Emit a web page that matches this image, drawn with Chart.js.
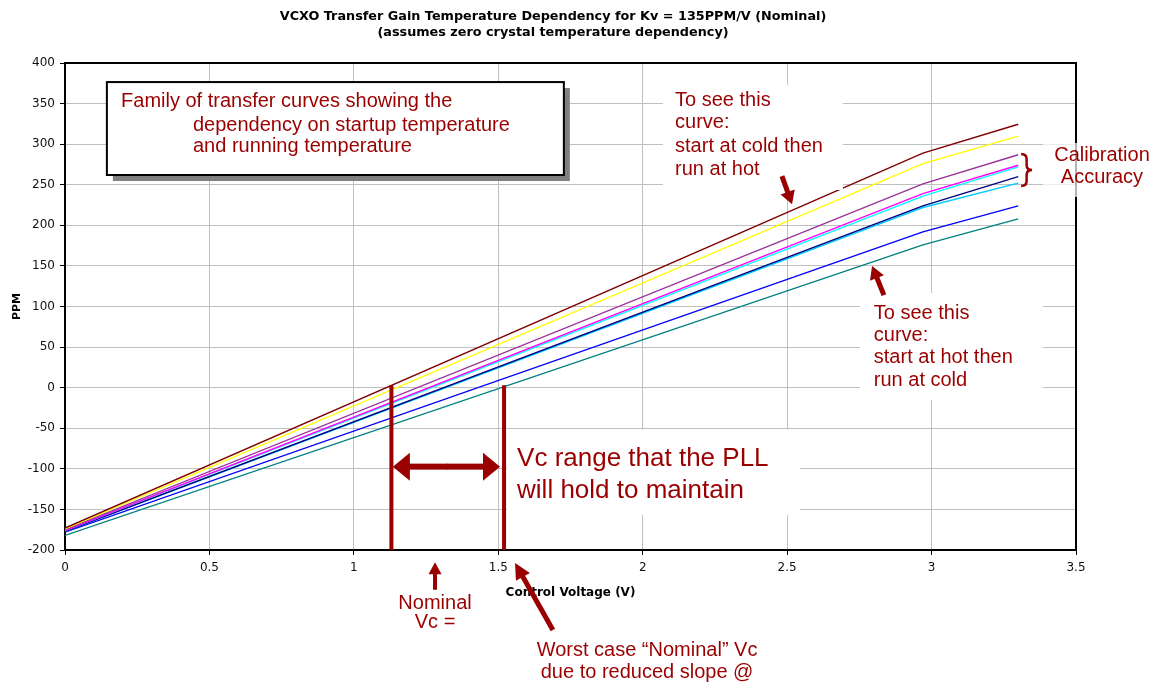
<!DOCTYPE html>
<html>
<head>
<meta charset="utf-8">
<script src="https://cdn.jsdelivr.net/npm/chart.js@4"></script>
<style>
  html, body { margin: 0; padding: 0; background: #fff; }
  #wrap { width: 1158px; height: 683px; }
</style>
</head>
<body>
<div id="wrap"><canvas id="vcxoChart" width="1158" height="683"></canvas></div>
<script>
// control voltage points (V) where the curves were sampled
const voltage = [0, 2.97, 3.3];

// PPM values for each curve
const curveMaroon = [-173, 289, 324.5];
const curveYellow = [-174, 276, 310];
const curvePurple = [-175, 251, 287];
const curveMagenta = [-176, 239, 274];
const curveCyan = [-176, 236, 272];
const curveNavy = [-177, 224, 260];
const curveSky = [-177, 222, 252];
const curveBlue = [-178, 192, 224];
const curveTeal = [-182, 176, 208];

const xTickLabels = ['0', '0.5', '1', '1.5', '2', '2.5', '3', '3.5'];
const yTickLabels = ['-200', '-150', '-100', '-50', '0', '50', '100', '150', '200', '250', '300', '350', '400'];

const curves = [
    { name: 'cold start, hot run', values: curveMaroon, color: '#800000' },
    { name: 'curve 2', values: curveYellow, color: '#ffff00' },
    { name: 'curve 3', values: curvePurple, color: '#993399' },
    { name: 'curve 4', values: curveMagenta, color: '#ff00ff' },
    { name: 'curve 5', values: curveCyan, color: '#00ffff' },
    { name: 'curve 6', values: curveNavy, color: '#000080' },
    { name: 'curve 7', values: curveSky, color: '#00ccff' },
    { name: 'curve 8', values: curveBlue, color: '#0000ff' },
    { name: 'hot start, cold run', values: curveTeal, color: '#008080' }
];

const DARK_RED = '#9a0000';
const NOTE_FONT = '20px "Liberation Sans", Arial, sans-serif';

function drawArrow(ctx, x1, y1, x2, y2, w, headLen, headW) {
    const ang = Math.atan2(y2 - y1, x2 - x1);
    const len = Math.hypot(x2 - x1, y2 - y1);
    ctx.save();
    ctx.translate(x2, y2);
    ctx.rotate(ang);
    ctx.fillStyle = DARK_RED;
    ctx.fillRect(-len, -w / 2, len - headLen + 1, w);
    ctx.beginPath();
    ctx.moveTo(0, 0);
    ctx.lineTo(-headLen, -headW / 2);
    ctx.lineTo(-headLen, headW / 2);
    ctx.closePath();
    ctx.fill();
    ctx.restore();
}

function drawLines(ctx, lines, x, ys, align) {
    ctx.textAlign = align || 'left';
    ctx.textBaseline = 'middle';
    lines.forEach((t, i) => ctx.fillText(t, x, ys[i]));
}

// box on the plot, drawn before the curves
const framePlugin = {
    id: 'frame',
    beforeDatasetsDraw(chart) {
        const { ctx, chartArea: a } = chart;
        ctx.save();
        ctx.strokeStyle = '#000';
        ctx.lineWidth = 2;
        ctx.strokeRect(a.left, a.top, a.right - a.left, a.bottom - a.top);
        ctx.restore();
    }
};

// text notes and arrows, placed in data units
const notesPlugin = {
    id: 'notes',
    afterDraw(chart) {
        const ctx = chart.ctx;
        const sx = chart.scales.x, sy = chart.scales.y;
        const px = v => sx.getPixelForValue(v);
        const py = v => sy.getPixelForValue(v);
        ctx.save();

        // title
        ctx.fillStyle = '#000';
        ctx.font = 'bold 12.8px "DejaVu Sans", Verdana, sans-serif';
        drawLines(ctx, ['VCXO Transfer Gain Temperature Dependency for Kv = 135PPM/V (Nominal)',
            '(assumes zero crystal temperature dependency)'], chart.width / 2 - 26, [17, 33], 'center');

        // family box with shadow
        let l = px(0.145), r = px(1.727), t = py(376.5), b = py(262);
        ctx.fillStyle = '#808080';
        ctx.fillRect(l + 6, t + 6, r - l, b - t);
        ctx.fillStyle = '#fff';
        ctx.fillRect(l, t, r - l, b - t);
        ctx.strokeStyle = '#000';
        ctx.lineWidth = 2;
        ctx.strokeRect(l, t, r - l, b - t);
        ctx.fillStyle = DARK_RED;
        ctx.font = NOTE_FONT;
        drawLines(ctx, ['Family of transfer curves showing the'], px(0.194), [py(352.3)]);
        drawLines(ctx, ['dependency on startup temperature', 'and running temperature'],
            px(0.443), [py(323.6), py(296.9)]);

        // cold -> hot note
        ctx.fillStyle = '#fff';
        ctx.fillRect(px(2.07), py(373), px(2.693) - px(2.07), py(243.6) - py(373));
        ctx.fillStyle = DARK_RED;
        drawLines(ctx, ['To see this', 'curve:', 'start at cold then', 'run at hot'], px(2.112),
            [py(353.6), py(326.5), py(296.9), py(269.4)]);
        drawArrow(ctx, px(2.482), py(260.6), px(2.517), py(226), 5, 13, 15);

        // hot -> cold note
        ctx.fillStyle = '#fff';
        ctx.fillRect(px(2.752), py(116.6), px(3.386) - px(2.752), py(-15.2) - py(116.6));
        ctx.fillStyle = DARK_RED;
        drawLines(ctx, ['To see this', 'curve:', 'start at hot then', 'run at cold'], px(2.80),
            [py(92), py(64.3), py(36.6), py(8.3)]);
        drawArrow(ctx, px(2.835), py(114), px(2.794), py(150), 5, 13, 15);

        // calibration accuracy
        ctx.fillStyle = 'rgba(255,255,255,0.7)';
        ctx.fillRect(px(3.386), py(301.5), chart.width - px(3.386), py(235) - py(301.5));
        ctx.fillStyle = DARK_RED;
        drawLines(ctx, ['Calibration', 'Accuracy'], px(3.59), [py(285.8), py(258.4)], 'center');
        const bl = px(3.31), br = px(3.348), bm = (bl + br) / 2;
        const bt = py(288), bb = py(248.5), bc = (bt + bb) / 2, rr = 5;
        ctx.strokeStyle = DARK_RED;
        ctx.lineWidth = 2.5;
        ctx.beginPath();
        ctx.moveTo(bl, bt);
        ctx.quadraticCurveTo(bm, bt, bm, bt + rr);
        ctx.lineTo(bm, bc - rr);
        ctx.quadraticCurveTo(bm, bc, br, bc);
        ctx.quadraticCurveTo(bm, bc, bm, bc + rr);
        ctx.lineTo(bm, bb - rr);
        ctx.quadraticCurveTo(bm, bb, bl, bb);
        ctx.stroke();

        // Vc range markers
        ctx.strokeStyle = DARK_RED;
        ctx.lineWidth = 4;
        [1.13, 1.52].forEach(v => {
            ctx.beginPath();
            ctx.moveTo(px(v), py(3));
            ctx.lineTo(px(v), py(-200));
            ctx.stroke();
        });
        const ay = py(-97.3), ax1 = px(1.135), ax2 = px(1.506);
        drawArrow(ctx, (ax1 + ax2) / 2, ay, ax2, ay, 6, 17, 28);
        drawArrow(ctx, (ax1 + ax2) / 2 + 1, ay, ax1, ay, 6, 17, 28);

        ctx.fillStyle = '#fff';
        ctx.fillRect(px(1.53), py(-52), px(2.544) - px(1.53), py(-157) - py(-52));
        ctx.fillStyle = DARK_RED;
        ctx.font = '26px "Liberation Sans", Arial, sans-serif';
        drawLines(ctx, ['Vc range that the PLL', 'will hold to maintain'], px(1.565),
            [py(-88), py(-127.5)]);

        // below the axis
        ctx.font = NOTE_FONT;
        drawArrow(ctx, px(1.281), py(-249), px(1.281), py(-215), 4, 12, 13);
        drawLines(ctx, ['Nominal', 'Vc ='], px(1.281), [py(-265.3), py(-288.7)], 'center');
        drawArrow(ctx, px(1.689), py(-298.5), px(1.558), py(-216), 5, 16, 16);
        drawLines(ctx, ['Worst case \u201cNominal\u201d Vc', 'due to reduced slope @'], px(2.015),
            [py(-323.2), py(-350.3)], 'center');

        ctx.restore();
    }
};

const tickFont = { family: '"DejaVu Sans", Verdana, sans-serif', size: 12 };

function createChart() {
    const ctx = document.getElementById('vcxoChart').getContext('2d');
    return new Chart(ctx, {
        type: 'line',
        data: {
            datasets: curves.map(c => ({
                label: c.name,
                data: voltage.map((v, i) => ({ x: v, y: c.values[i] })),
                borderColor: c.color,
                backgroundColor: c.color,
                borderWidth: 1.4,
                pointRadius: 0,
                tension: 0,
                fill: false
            }))
        },
        options: {
            responsive: false,
            devicePixelRatio: 1,
            animation: false,
            layout: { padding: { top: 63, right: 82, left: 0, bottom: 0 } },
            plugins: {
                legend: { display: false },
                title: { display: false },
                tooltip: { enabled: false }
            },
            scales: {
                x: {
                    type: 'linear',
                    min: 0,
                    max: 3.5,
                    afterFit: s => { s.height = 133; },
                    afterBuildTicks: s => { s.ticks = xTickLabels.map(t => ({ value: parseFloat(t) })); },
                    ticks: {
                        color: '#111',
                        font: tickFont,
                        padding: 6,
                        maxRotation: 0,
                        callback: (v, i) => xTickLabels[i]
                    },
                    grid: { color: '#c0c0c0', lineWidth: 1, tickLength: 5, tickColor: '#000' },
                    border: { display: true, color: '#000', width: 2 },
                    title: {
                        display: true,
                        text: 'Control Voltage (V)',
                        color: '#000',
                        font: { family: '"DejaVu Sans", Verdana, sans-serif', size: 12, weight: 'bold' },
                        padding: { top: 0, bottom: 83 }
                    }
                },
                y: {
                    min: -200,
                    max: 400,
                    afterFit: s => { s.width = 65; },
                    afterBuildTicks: s => { s.ticks = yTickLabels.map(t => ({ value: parseFloat(t) })); },
                    ticks: {
                        color: '#111',
                        font: tickFont,
                        padding: 5,
                        callback: (v, i) => yTickLabels[i]
                    },
                    grid: { color: '#c0c0c0', lineWidth: 1, tickLength: 5, tickColor: '#000' },
                    border: { display: true, color: '#000', width: 2 },
                    title: {
                        display: true,
                        text: 'PPM',
                        color: '#000',
                        font: { family: '"DejaVu Sans", Verdana, sans-serif', size: 11, weight: 'bold' },
                        padding: { top: 11, bottom: 0 }
                    }
                }
            }
        },
        plugins: [framePlugin, notesPlugin]
    });
}

createChart();
</script>
</body>
</html>
